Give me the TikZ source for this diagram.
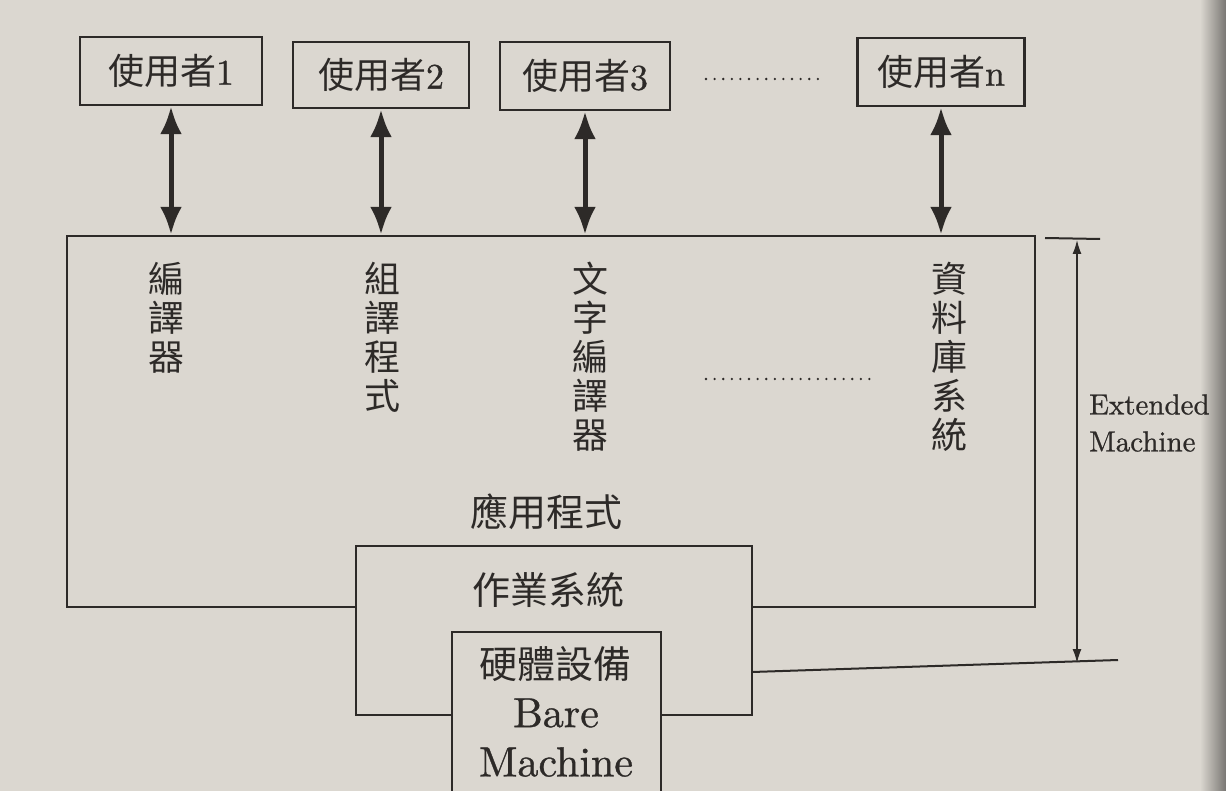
\documentclass[tikz,border=0pt]{standalone}
\usepackage{fontspec}
\newfontfamily\cjk{Noto Sans CJK TC}
\newfontfamily\lmr{lmroman10-regular}[Extension=.otf, FakeBold=0.8]
\usetikzlibrary{arrows.meta}
\definecolor{bg}{RGB}{219,215,208}
\definecolor{ink}{RGB}{45,42,40}
\begin{document}
\begin{tikzpicture}[x=1pt,y=-1pt,
  box/.style={draw=ink, line width=2.4pt, fill=bg, inner sep=0pt, rectangle},
  usr/.style={box, text=ink, font=\cjk\fontsize{36}{40}\selectfont},
  biarrow/.style={draw=ink, line width=5pt, {Latex[length=28pt,width=22pt]}-{Latex[length=28pt,width=22pt]}},
  thinarrow/.style={draw=ink, line width=1.4pt, {Latex[length=14pt,width=9pt]}-{Latex[length=14pt,width=9pt]}},
  plain/.style={draw=ink, line width=2pt},
  vtext/.style={text=ink, font=\cjk\fontsize{36}{39}\selectfont, align=center, inner sep=0pt, anchor=north},
  htext/.style={text=ink, font=\cjk\fontsize{38}{42}\selectfont, inner sep=0pt},
  lat/.style={text=ink, font=\lmr\fontsize{42}{48}\selectfont, inner sep=0pt},
  dots/.style={draw=ink, line width=2.6pt, line cap=round, dash pattern=on 0pt off 8.6pt}
]
\useasboundingbox (0,0) rectangle (1226,791);
\fill[bg] (0,0) rectangle (1226,791);
\shade[left color=bg, right color=bg!55!black] (1200,0) rectangle (1226,791);
\clip (0,0) rectangle (1226,791);

% user boxes
\node[usr, minimum width=182pt, minimum height=68pt] (u1) at (171,71) {使用者{\lmr 1}};
\node[usr, minimum width=176pt, minimum height=66pt] (u2) at (381,75) {使用者{\lmr 2}};
\node[usr, minimum width=170pt, minimum height=68pt] (u3) at (585,76) {使用者{\lmr 3}};
\node[usr, minimum width=167pt, minimum height=68pt] (un) at (941,72) {使用者{\lmr n}};
\draw[dots] (706,79) -- (818,79);

% main (application) box
\node[box, minimum width=968pt, minimum height=371pt] (main) at (551,421.5) {};

% arrows users <-> main
\draw[biarrow] (u1.south) -- (u1.south |- main.north);
\draw[biarrow] (u2.south) -- (u2.south |- main.north);
\draw[biarrow] (u3.south) -- (u3.south |- main.north);
\draw[biarrow] (un.south) -- (un.south |- main.north);

% vertical labels
\node[vtext] (c1) at (166,262) {編\\譯\\器};
\node[vtext] (c2) at (382,262) {組\\譯\\程\\式};
\node[vtext] (c3) at (590,262) {文\\字\\編\\譯\\器};
\node[vtext] (c4) at (949,262) {資\\料\\庫\\系\\統};
\draw[dots] (706,379) -- (875,379);
\node[htext] (app) at (546,512) {應用程式};

% OS box
\node[box, minimum width=396pt, minimum height=169pt] (os) at (554,630.5) {};
\node[htext] (ost) at (548,590) {作業系統};

% hardware box
\node[box, minimum width=209pt, minimum height=190pt] (hw) at (556.5,727) {};
\node[htext] (hwt) at (555,664) {硬體設備};
\node[lat] (bare) at (556,713) {Bare};
\node[lat] (mach) at (556,762) {Machine};

% extended machine bracket
\coordinate (tl) at (1045,238);
\coordinate (tr) at (1100,239);
\coordinate (hwr) at (752,672);
\coordinate (br) at (1118,660);
\coordinate (emtop) at (1077,240);
\coordinate (embot) at (1077,663);
\draw[plain] (tl) -- (tr);
\draw[plain] (hwr) -- (br);
\draw[thinarrow] (emtop) -- (embot);
\node[text=ink, font=\lmr\fontsize{29}{37}\selectfont, align=left, anchor=west, inner sep=0pt] (em) at (1089,423) {Extended\\Machine};
\end{tikzpicture}
\end{document}
